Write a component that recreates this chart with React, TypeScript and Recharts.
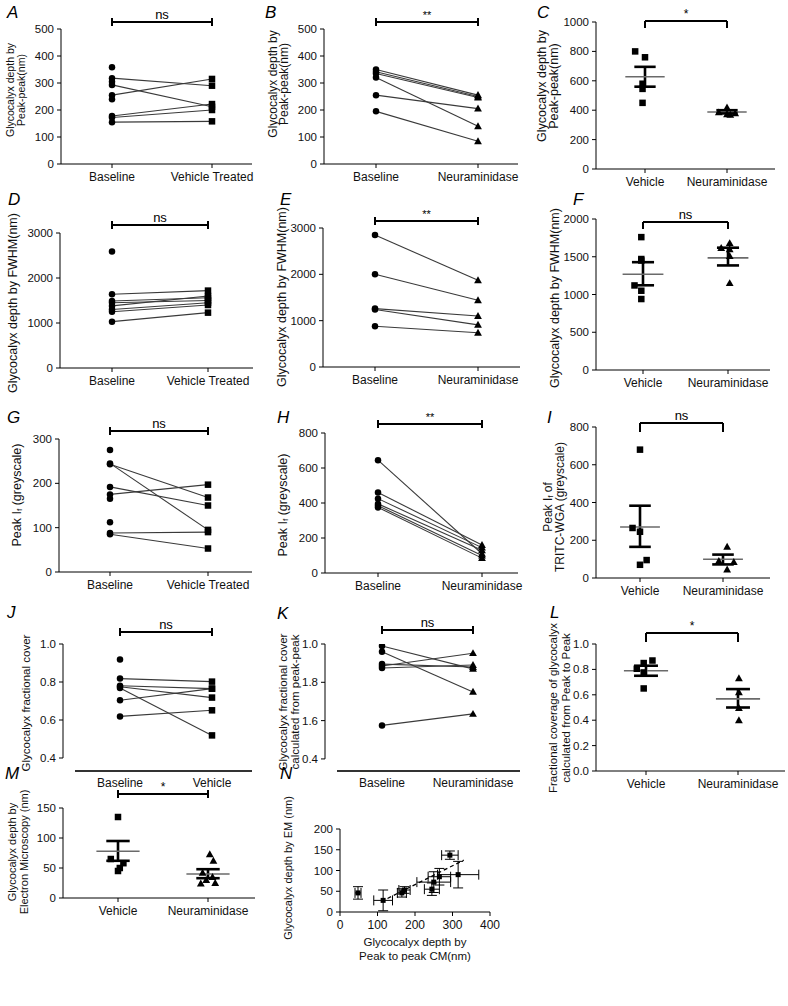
import React from 'react';
import { ComposedChart, ScatterChart, Line, Scatter, XAxis, YAxis, ReferenceLine, ErrorBar } from 'recharts';

const FONT = '"Liberation Sans", Arial, Helvetica, sans-serif';
const INK = '#111';
const LINE = '#3a3a3a';

// ---------------- categories & ticks ----------------
const catVehicleTreated = ['Baseline', 'Vehicle Treated'];
const catBaseNeur = ['Baseline', 'Neuraminidase'];
const catBaseVehicle = ['Baseline', 'Vehicle'];
const catGroups = ['Vehicle', 'Neuraminidase'];

const ticksA = [0, 100, 200, 300, 400, 500];
const ticksC = [0, 200, 400, 600, 800, 1000];
const ticksD = [0, 1000, 2000, 3000];
const ticksF = [0, 500, 1000, 1500, 2000];
const ticksG = [0, 100, 200, 300];
const ticksH = [0, 200, 400, 600, 800];
const ticksJ = [0.4, 0.6, 0.8, 1.0];
const tickLabelsK = ['0.4', '1.6', '1.8', '1.0'];
const ticksL = [0, 0.2, 0.4, 0.6, 0.8, 1.0];
const ticksM = [0, 50, 100, 150];
const ticksNx = [0, 100, 200, 300, 400];
const ticksNy = [0, 50, 100, 150, 200];

// ---------------- data ----------------
// A
const aBaseline = [318, 293, 255, 178, 172, 155];
const aVehicle = [290, 212, 315, 222, 200, 158];
const aBaselineOnly = [358, 305, 240];
// B
const bBaseline = [350, 342, 335, 320, 255, 195];
const bNeur = [255, 250, 246, 140, 205, 84];
// C
const cVehicle = [800, 760, 580, 545, 450];
const cVehicleJitter = [-0.12, 0.0, -0.03, -0.03, -0.03];
const cNeur = [418, 385, 378, 372, 368];
const cNeurJitter = [0, -0.1, 0.1, 0, 0.04];
const cMean = [628, 388];
const cSemLow = [560, 378];
const cSemHigh = [695, 400];
// D
const dBaseline = [1640, 1490, 1450, 1380, 1300, 1250, 1030];
const dVehicle = [1720, 1560, 1500, 1600, 1450, 1400, 1230];
const dBaselineOnly = [2590];
// E
const eBaseline = [2850, 2000, 1260, 1240, 880];
const eNeur = [1870, 1440, 1100, 910, 740];
// F
const fVehicle = [1760, 1470, 1450, 1120, 1050, 940];
const fVehicleJitter = [-0.02, -0.02, -0.02, -0.1, -0.02, -0.02];
const fNeur = [1680, 1615, 1600, 1510, 1150];
const fNeurJitter = [0.02, -0.08, 0.02, 0.02, 0.02];
const fMean = [1268, 1485];
const fSemLow = [1122, 1385];
const fSemHigh = [1428, 1620];
// G
const gBaseline = [245, 243, 192, 175, 88, 85];
const gVehicle = [95, 168, 150, 197, 90, 53];
const gBaselineOnly = [275, 165, 112];
// H
const hBaseline = [645, 460, 425, 395, 385, 375];
const hNeur = [110, 160, 145, 130, 100, 85];
// I
const iVehicle = [680, 265, 245, 95, 70];
const iVehicleJitter = [0, -0.09, 0, 0.08, 0];
const iNeur = [165, 90, 85, 45];
const iNeurJitter = [0.05, -0.05, 0.13, 0.05];
const iMean = [270, 99];
const iSemLow = [165, 72];
const iSemHigh = [383, 124];
// J
const jBaseline = [0.818, 0.78, 0.775, 0.768, 0.704, 0.619];
const jVehicle = [0.802, 0.765, 0.718, 0.519, 0.765, 0.651];
const jBaselineOnly = [0.918];
// K
const kBaseline = [0.99, 0.96, 0.895, 0.885, 0.875, 0.575];
const kNeur = [0.87, 0.75, 0.88, 0.952, 0.89, 0.635];
// L
const lVehicle = [0.805, 0.85, 0.87, 0.776, 0.65];
const lVehicleJitter = [-0.1, -0.025, 0.07, -0.025, -0.025];
const lNeur = [0.73, 0.62, 0.495, 0.4];
const lNeurJitter = [0.01, 0.01, 0.01, 0.01];
const lMean = [0.789, 0.568];
const lSemLow = [0.75, 0.5];
const lSemHigh = [0.829, 0.645];
// M
const mVehicle = [135, 65, 58, 50, 45];
const mVehicleJitter = [0, -0.08, 0.06, 0.02, 0];
const mNeur = [73, 62, 42, 35, 30, 25, 24];
const mNeurJitter = [0.02, 0.06, -0.06, 0.05, -0.02, 0.08, -0.08];
const mMean = [78, 40];
const mSemLow = [62, 33];
const mSemHigh = [95, 48];
// N  (CM depth, EM depth, x error, y error)
const nCM = [48, 115, 165, 172, 245, 250, 265, 293, 315];
const nEM = [46, 28, 46, 53, 55, 72, 85, 137, 90];
const nCMErr = [8, 25, 12, 15, 20, 45, 30, 22, 55];
const nEMErr = [15, 25, 10, 8, 15, 25, 20, 10, 32];
const nFitCM = [110, 330];
const nFitEM = [25, 125];

// ---------------- layout helpers ----------------
type Geo = { x0: number; x1: number; y0: number; y1: number; xd: [number, number]; yd: [number, number] };
const PADL = 64, PADT = 36, PADR = 16, PADB = 50, YW = 30, XH = 30;

function geo(x0: number, x1: number, y0: number, y1: number, c0: number, c1: number, yd: [number, number]): Geo {
  const ppu = c1 - c0;
  return { x0, x1, y0, y1, xd: [(x0 - c0) / ppu, (x1 - c0) / ppu], yd };
}
function frame(g: Geo) {
  return {
    left: g.x0 - PADL,
    top: g.y0 - PADT,
    width: g.x1 - g.x0 + PADL + PADR,
    height: g.y1 - g.y0 + PADT + PADB,
    margin: { left: PADL - YW, top: PADT, right: PADR, bottom: PADB - XH },
  };
}
const yAt = (g: Geo, py: number) => g.yd[1] - ((py - g.y0) * (g.yd[1] - g.yd[0])) / (g.y1 - g.y0);
const xAt = (g: Geo, px: number) => g.xd[0] + ((px - g.x0) * (g.xd[1] - g.xd[0])) / (g.x1 - g.x0);

type Kind = 'circle' | 'square' | 'triangle';
function Marker({ cx, cy, kind, s = 6.5 }: { cx: number; cy: number; kind: Kind; s?: number }) {
  if (kind === 'circle') return <circle cx={cx} cy={cy} r={s / 2} fill="#000" />;
  if (kind === 'square') return <rect x={cx - s / 2} y={cy - s / 2} width={s} height={s} fill="#000" />;
  return (
    <polygon
      points={`${cx},${cy - s * 0.62} ${cx - s * 0.6},${cy + s * 0.45} ${cx + s * 0.6},${cy + s * 0.45}`}
      fill="#000"
    />
  );
}

type YLab = { lines: React.ReactNode[]; xs: number[]; cy: number; fs: number };

function yLabelFn(lab: YLab, g: Geo) {
  const f = frame(g);
  return () => (
    <g>
      {lab.lines.map((ln, i) => {
        const x = lab.xs[i] - f.left;
        const y = lab.cy - f.top;
        return (
          <text key={i} x={x} y={y} transform={`rotate(-90 ${x} ${y})`} textAnchor="middle"
            dominantBaseline="central" fontSize={lab.fs} fill={INK} fontFamily={FONT}>
            {ln}
          </text>
        );
      })}
    </g>
  );
}

function xLabelFn(lines: string[], cx: number, ys: number[], fs: number, g: Geo) {
  const f = frame(g);
  return () => (
    <g>
      {lines.map((ln, i) => (
        <text key={i} x={cx - f.left} y={ys[i] - f.top} textAnchor="middle" dominantBaseline="central"
          fontSize={fs} fill={INK} fontFamily={FONT}>
          {ln}
        </text>
      ))}
    </g>
  );
}

type AxOpts = {
  xTicks: number[];
  xFmt?: (v: number) => string;
  yTicks: number[];
  yFmt?: (v: number) => string;
  ylab: YLab;
  split?: boolean;
  scatter?: boolean;
  xTickLine?: boolean;
  xlab?: any;
};

function axes(g: Geo, o: AxOpts) {
  const xTickStyle = { fontSize: 12, fill: INK, fontFamily: FONT };
  const yTickStyle = { fontSize: 11.5, fill: INK, fontFamily: FONT };
  return [
    <XAxis key="xa" type="number" dataKey="x" domain={g.xd} ticks={o.xTicks} interval={0} allowDataOverflow
      tickFormatter={o.xFmt} height={XH} tickSize={o.xTickLine === false ? 0 : 4} tickMargin={o.xTickLine === false ? 7 : 4}
      axisLine={o.split ? false : { stroke: '#000', strokeWidth: 1 }}
      tickLine={o.xTickLine === false ? false : { stroke: '#000', strokeWidth: 1 }}
      tick={xTickStyle} label={o.xlab} />,
    <YAxis key="ya" type="number" dataKey={o.scatter ? 'y' : undefined} domain={g.yd} ticks={o.yTicks} interval={0}
      allowDataOverflow tickFormatter={o.yFmt} width={YW} tickSize={4} tickMargin={3}
      axisLine={o.split ? false : { stroke: '#000', strokeWidth: 1 }} tickLine={{ stroke: '#000', strokeWidth: 1 }}
      tick={yTickStyle} label={yLabelFn(o.ylab, g)} />,
  ];
}

function splitAxes(g: Geo, xStartPx: number) {
  return [
    <ReferenceLine key="sy" segment={[{ x: g.xd[0], y: 0.4 }, { x: g.xd[0], y: 1.0 }]} stroke="#000" strokeWidth={1}
      ifOverflow="visible" />,
    <ReferenceLine key="sx" segment={[{ x: xAt(g, xStartPx), y: g.yd[0] }, { x: g.xd[1], y: g.yd[0] }]} stroke="#333"
      strokeWidth={1.8} ifOverflow="visible" />,
  ];
}

function bracket(g: Geo, style: 'cap' | 'down', py: number, text: string, leg: number, fs = 12) {
  const yv = yAt(g, py);
  const els = [
    <ReferenceLine key="bh" segment={[{ x: 0, y: yv }, { x: 1, y: yv }]} stroke="#000" strokeWidth={2}
      ifOverflow="visible"
      label={{ value: text, position: 'top', offset: 3, fontSize: fs, fill: '#000', fontFamily: FONT }} />,
  ];
  const yTop = style === 'cap' ? yAt(g, py - leg) : yv;
  const yBot = yAt(g, py + leg);
  [0, 1].forEach((c) =>
    els.push(
      <ReferenceLine key={'bv' + c} segment={[{ x: c, y: yTop }, { x: c, y: yBot }]} stroke="#000" strokeWidth={2}
        ifOverflow="visible" />
    )
  );
  return els;
}

function meanSem(mean: number[], lo: number[], hi: number[], mh = 0.24, sh = 0.13) {
  const els: any[] = [];
  [0, 1].forEach((c) => {
    els.push(
      <ReferenceLine key={'mv' + c} segment={[{ x: c, y: lo[c] }, { x: c, y: hi[c] }]} stroke="#000" strokeWidth={2.6}
        ifOverflow="visible" />,
      <ReferenceLine key={'mm' + c} segment={[{ x: c - mh, y: mean[c] }, { x: c + mh, y: mean[c] }]} stroke="#6a6a6a"
        strokeWidth={1.6} ifOverflow="visible" />,
      <ReferenceLine key={'ml' + c} segment={[{ x: c - sh, y: lo[c] }, { x: c + sh, y: lo[c] }]} stroke="#000"
        strokeWidth={2.6} ifOverflow="visible" />,
      <ReferenceLine key={'mh' + c} segment={[{ x: c - sh, y: hi[c] }, { x: c + sh, y: hi[c] }]} stroke="#000"
        strokeWidth={2.6} ifOverflow="visible" />
    );
  });
  return els;
}

const dotFn = (k0: Kind, k1: Kind) => (p: any) => {
  const key = `${p.dataKey}-${p.index}`;
  if (p.cx == null || p.cy == null || p.value == null || Number.isNaN(p.cy)) return <g key={key} />;
  return (
    <g key={key}>
      <Marker cx={p.cx} cy={p.cy} kind={p.index === 0 ? k0 : k1} />
    </g>
  );
};

function pairedRows(before: number[], after: number[], beforeOnly: number[]) {
  const r0: any = { x: 0 };
  const r1: any = { x: 1 };
  before.forEach((v, i) => {
    r0['p' + i] = v;
    r1['p' + i] = after[i];
  });
  beforeOnly.forEach((v, i) => {
    r0['b' + i] = v;
    r1['b' + i] = null;
  });
  return [r0, r1];
}

function PairedPanel(props: {
  g: Geo; cats: string[]; before: number[]; after: number[]; beforeOnly?: number[]; k0: Kind; k1: Kind;
  yTicks: number[]; yFmt?: (v: number) => string; ylab: YLab; sig: string; sigPy: number; sigFs?: number;
  split?: number;
}) {
  const { g, cats, before, after, beforeOnly = [], k0, k1, yTicks, yFmt, ylab, sig, sigPy, sigFs, split } = props;
  const f = frame(g);
  const rows = pairedRows(before, after, beforeOnly);
  return (
    <div style={{ position: 'absolute', left: f.left, top: f.top }}>
      <ComposedChart width={f.width} height={f.height} margin={f.margin} data={rows}>
        {axes(g, {
          xTicks: [0, 1], xFmt: (v) => cats[v] ?? '', yTicks, yFmt, ylab, split: split != null,
          xTickLine: split == null,
        })}
        {split != null ? splitAxes(g, split) : null}
        {before.map((_, i) => (
          <Line key={'p' + i} dataKey={'p' + i} stroke={LINE} strokeWidth={1.1} dot={dotFn(k0, k1)} activeDot={false}
            isAnimationActive={false} legendType="none" />
        ))}
        {beforeOnly.map((_, i) => (
          <Line key={'b' + i} dataKey={'b' + i} stroke={LINE} strokeWidth={1.1} dot={dotFn(k0, k1)} activeDot={false}
            isAnimationActive={false} legendType="none" />
        ))}
        {bracket(g, 'cap', sigPy, sig, 4, sigFs)}
      </ComposedChart>
    </div>
  );
}

function GroupPanel(props: {
  g: Geo; v0: number[]; j0: number[]; v1: number[]; j1: number[]; k0: Kind; k1: Kind;
  mean: number[]; lo: number[]; hi: number[]; yTicks: number[]; yFmt?: (v: number) => string; ylab: YLab;
  sig: string; sigPy: number; brStyle: 'cap' | 'down'; leg: number; mh?: number; sh?: number; sigFs?: number;
}) {
  const { g, v0, j0, v1, j1, k0, k1, mean, lo, hi, yTicks, yFmt, ylab, sig, sigPy, brStyle, leg, mh, sh, sigFs } = props;
  const f = frame(g);
  const pts0 = v0.map((y, i) => ({ x: j0[i], y }));
  const pts1 = v1.map((y, i) => ({ x: 1 + j1[i], y }));
  return (
    <div style={{ position: 'absolute', left: f.left, top: f.top }}>
      <ScatterChart width={f.width} height={f.height} margin={f.margin}>
        {axes(g, { xTicks: [0, 1], xFmt: (v) => catGroups[v] ?? '', yTicks, yFmt, ylab, scatter: true })}
        <Scatter data={pts0} isAnimationActive={false} legendType="none"
          shape={(p: any) => <Marker cx={p.cx} cy={p.cy} kind={k0} />} />
        <Scatter data={pts1} isAnimationActive={false} legendType="none"
          shape={(p: any) => <Marker cx={p.cx} cy={p.cy} kind={k1} />} />
        {meanSem(mean, lo, hi, mh, sh)}
        {bracket(g, brStyle, sigPy, sig, leg, sigFs)}
      </ScatterChart>
    </div>
  );
}

const fmt1 = (v: number) => v.toFixed(1);
const peakIf = (
  <>
    Peak I<tspan dy={2} fontSize={8}>f</tspan>
    <tspan dy={-2}> (greyscale)</tspan>
  </>
);
const peakIfOf = (
  <>
    Peak I<tspan dy={2} fontSize={8}>f</tspan>
    <tspan dy={-2}> of</tspan>
  </>
);

// ---------------- geometries ----------------
const gA = geo(61, 252, 29, 164, 112, 212, [0, 500]);
const gB = geo(324, 518, 29, 164, 376, 478, [0, 500]);
const gC = geo(596, 775, 22, 169, 645, 727, [0, 1000]);
const gD = geo(60, 253, 233, 368, 112, 208, [0, 3000]);
const gE = geo(323, 520, 228, 367, 375, 478, [0, 3000]);
const gF = geo(596, 770, 219, 370, 643, 728, [0, 2000]);
const gG = geo(59, 252, 439, 572, 110, 208, [0, 300]);
const gH = geo(325, 518, 433, 573, 378, 482, [0, 800]);
const gI = geo(596, 770, 427, 578, 640, 723, [0, 800]);
const gJ = geo(63, 252, 644, 771, 120, 212, [0.3316, 1.0]);
const gK = geo(325, 520, 644, 771, 382, 473, [0.337, 1.0]);
const gL = geo(596, 785, 644, 771, 646, 738, [0, 1.0]);
const gM = geo(63, 255, 808, 898, 118, 208, [0, 150]);
const gN: Geo = { x0: 340, x1: 490, y0: 829, y1: 912, xd: [0, 400], yd: [0, 200] };

const panelLetters: [string, number, number][] = [
  ['A', 7, 18], ['B', 265, 18], ['C', 537, 18],
  ['D', 8, 205], ['E', 280, 205], ['F', 573, 205],
  ['G', 7, 423], ['H', 277, 423], ['I', 547, 423],
  ['J', 7, 618], ['K', 277, 619], ['L', 550, 618],
  ['M', 5, 779], ['N', 280, 779],
];

function NPanel() {
  const g = gN;
  const f = frame(g);
  const pts = nCM.map((x, i) => ({ x, y: nEM[i], ex: nCMErr[i], ey: nEMErr[i] }));
  return (
    <div style={{ position: 'absolute', left: f.left, top: f.top }}>
      <ScatterChart width={f.width} height={f.height} margin={f.margin}>
        {axes(g, {
          xTicks: ticksNx, yTicks: ticksNy, scatter: true,
          ylab: { lines: ['Glycocalyx depth by EM (nm)'], xs: [288], cy: 868, fs: 11 },
          xlab: xLabelFn(['Glycocalyx depth by', 'Peak to peak CM(nm)'], 415, [942, 956], 11.5, g),
        })}
        <ReferenceLine segment={[{ x: nFitCM[0], y: nFitEM[0] }, { x: nFitCM[1], y: nFitEM[1] }]} stroke="#000"
          strokeWidth={1.3} strokeDasharray="4 3" ifOverflow="visible" />
        <Scatter data={pts} isAnimationActive={false} legendType="none"
          shape={(p: any) => <Marker cx={p.cx} cy={p.cy} kind="square" s={5} />}>
          <ErrorBar dataKey="ex" direction="x" width={5} stroke="#000" strokeWidth={1} />
          <ErrorBar dataKey="ey" direction="y" width={5} stroke="#000" strokeWidth={1} />
        </Scatter>
      </ScatterChart>
    </div>
  );
}

export default function App() {
  return (
    <div style={{ position: 'absolute', left: 0, top: 0, width: 788, height: 1006, overflow: 'hidden', background: '#fff', fontFamily: FONT }}>
      <PairedPanel g={gA} cats={catVehicleTreated} before={aBaseline} after={aVehicle} beforeOnly={aBaselineOnly}
        k0="circle" k1="square" yTicks={ticksA} sig="ns" sigPy={22} sigFs={13}
        ylab={{ lines: ['Glycocalyx depth by', 'Peak-peak(nm)'], xs: [10, 21], cy: 90, fs: 10.5 }} />
      <PairedPanel g={gB} cats={catBaseNeur} before={bBaseline} after={bNeur}
        k0="circle" k1="triangle" yTicks={ticksA} sig="**" sigPy={22} sigFs={11}
        ylab={{ lines: ['Glycocalyx depth by', 'Peak-peak(nm)'], xs: [273, 284], cy: 84, fs: 12 }} />
      <GroupPanel g={gC} v0={cVehicle} j0={cVehicleJitter} v1={cNeur} j1={cNeurJitter} k0="square" k1="triangle"
        mean={cMean} lo={cSemLow} hi={cSemHigh} yTicks={ticksC} sig="*" sigPy={21} brStyle="down" leg={7}
        ylab={{ lines: ['Glycocalyx depth by', 'Peak-peak(nm)'], xs: [542, 554], cy: 86, fs: 12.5 }} />

      <PairedPanel g={gD} cats={catVehicleTreated} before={dBaseline} after={dVehicle} beforeOnly={dBaselineOnly}
        k0="circle" k1="square" yTicks={ticksD} sig="ns" sigPy={225} sigFs={13}
        ylab={{ lines: ['Glycocalyx depth by FWHM(nm)'], xs: [13], cy: 303, fs: 12.5 }} />
      <PairedPanel g={gE} cats={catBaseNeur} before={eBaseline} after={eNeur}
        k0="circle" k1="triangle" yTicks={ticksD} sig="**" sigPy={221} sigFs={11}
        ylab={{ lines: ['Glycocalyx depth by FWHM(nm)'], xs: [282], cy: 297, fs: 12.5 }} />
      <GroupPanel g={gF} v0={fVehicle} j0={fVehicleJitter} v1={fNeur} j1={fNeurJitter} k0="square" k1="triangle"
        mean={fMean} lo={fSemLow} hi={fSemHigh} yTicks={ticksF} sig="ns" sigPy={222} brStyle="down" leg={7} sigFs={13}
        ylab={{ lines: ['Glycocalyx depth by FWHM(nm)'], xs: [555], cy: 298, fs: 12.5 }} />

      <PairedPanel g={gG} cats={catVehicleTreated} before={gBaseline} after={gVehicle} beforeOnly={gBaselineOnly}
        k0="circle" k1="square" yTicks={ticksG} sig="ns" sigPy={431} sigFs={13}
        ylab={{ lines: [peakIf], xs: [17], cy: 495, fs: 12.5 }} />
      <PairedPanel g={gH} cats={catBaseNeur} before={hBaseline} after={hNeur}
        k0="circle" k1="triangle" yTicks={ticksH} sig="**" sigPy={424} sigFs={11}
        ylab={{ lines: [peakIf], xs: [283], cy: 505, fs: 12.5 }} />
      <GroupPanel g={gI} v0={iVehicle} j0={iVehicleJitter} v1={iNeur} j1={iNeurJitter} k0="square" k1="triangle"
        mean={iMean} lo={iSemLow} hi={iSemHigh} yTicks={ticksH} sig="ns" sigPy={423} brStyle="down" leg={9} sigFs={13}
        ylab={{ lines: [peakIfOf, 'TRITC-WGA (greyscale)'], xs: [548, 560], cy: 507, fs: 12 }} />

      <PairedPanel g={gJ} cats={catBaseVehicle} before={jBaseline} after={jVehicle} beforeOnly={jBaselineOnly}
        k0="circle" k1="square" yTicks={ticksJ} yFmt={fmt1} sig="ns" sigPy={632} split={75} sigFs={13}
        ylab={{ lines: ['Glycocalyx fractional cover'], xs: [26], cy: 703, fs: 11.5 }} />
      <PairedPanel g={gK} cats={catBaseNeur} before={kBaseline} after={kNeur}
        k0="circle" k1="triangle" yTicks={ticksJ} yFmt={(v) => tickLabelsK[ticksJ.indexOf(v)] ?? ''} sig="ns"
        sigPy={630} split={337} sigFs={13}
        ylab={{ lines: ['Glycocalyx fractional cover', 'calculated from peak-peak'], xs: [283, 295], cy: 702, fs: 11.5 }} />
      <GroupPanel g={gL} v0={lVehicle} j0={lVehicleJitter} v1={lNeur} j1={lNeurJitter} k0="square" k1="triangle"
        mean={lMean} lo={lSemLow} hi={lSemHigh} yTicks={ticksL} yFmt={fmt1} sig="*" sigPy={633} brStyle="down" leg={9}
        ylab={{ lines: ['Fractional coverage of glycocalyx', 'calculated from Peak to Peak'], xs: [553, 566], cy: 708, fs: 11.5 }} />

      <GroupPanel g={gM} v0={mVehicle} j0={mVehicleJitter} v1={mNeur} j1={mNeurJitter} k0="square" k1="triangle"
        mean={mMean} lo={mSemLow} hi={mSemHigh} yTicks={ticksM} sig="*" sigPy={794} brStyle="cap" leg={4}
        ylab={{ lines: ['Glycocalyx depth by', 'Electron Microscopy (nm)'], xs: [12, 24], cy: 852, fs: 11 }} />
      <NPanel />

      <svg width={788} height={1006} style={{ position: 'absolute', left: 0, top: 0, pointerEvents: 'none' }}>
        {panelLetters.map(([t, x, y]) => (
          <text key={t} x={x} y={y} fontSize={17} fontStyle="italic" fontFamily={FONT} fill="#000">
            {t}
          </text>
        ))}
      </svg>
    </div>
  );
}
